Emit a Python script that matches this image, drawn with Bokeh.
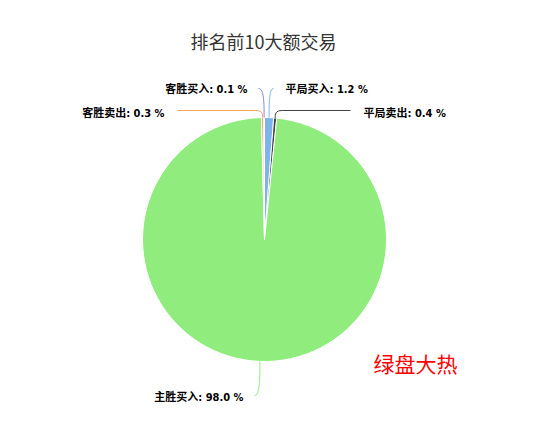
import math
from bokeh.plotting import figure
from bokeh.models import Range1d, Label
from bokeh.embed import file_html
from bokeh.resources import INLINE
from bokeh.core.properties import value

# ---- data ----
title_text = "排名前10大额交易"
names = ["平局买入", "平局卖出", "主胜买入", "客胜卖出", "客胜买入"]
values = [1.2, 0.4, 98.0, 0.3, 0.1]
note_text = "绿盘大热"

# ---- styles / layout ----
colors = ["#7cb5ec", "#434348", "#90ed7d", "#f7a35c", "#8085e9"]
# label layout (screen px): text anchor x, text y, side, connector end x, connector end y
label_layout = [
    (285, 89, "left", 273, 88),
    (363, 113, "left", 350, 110),
    (243, 397, "right", 254, 395),
    (164, 113, "right", 177, 110),
    (247, 89, "right", 258, 88),
]
CX, CY, R = 264, 239, 122
W, H = 517, 406
LBL_FONT = "'DejaVu Sans Condensed', 'Noto Sans CJK SC'"
CJK_FONT = "Noto Sans CJK SC"

p = figure(width=W, height=H, x_range=Range1d(0, W), y_range=Range1d(-H, 0),
           toolbar_location=None, output_backend="svg", min_border=0, title=None)
p.axis.visible = False
p.grid.visible = False
p.outline_line_color = None
p.background_fill_color = "white"
p.border_fill_color = "white"

total = sum(values)
cum = 0.0
starts, ends, mids = [], [], []
for v in values:
    f0 = cum / total
    cum += v
    f1 = cum / total
    starts.append(math.pi / 2 - 2 * math.pi * f0)
    ends.append(math.pi / 2 - 2 * math.pi * f1)
    mids.append(math.pi / 2 - math.pi * (f0 + f1))

n = len(values)
p.wedge(x=[CX] * n, y=[-CY] * n, radius=R, start_angle=starts, end_angle=ends,
        direction="clock", fill_color=colors, line_color="white", line_width=1)

# connectors
bx0, by0, bx1, by1, bc0x, bc0y, bc1x, bc1y = [], [], [], [], [], [], [], []
sx0, sy0, sx1, sy1 = [], [], [], []
for i in range(n):
    px = CX + R * math.cos(mids[i])
    py = -CY + R * math.sin(mids[i])
    tx, ty, side, ex, ey = label_layout[i]
    ey = -ey
    sign = 1 if ex > px else -1
    if abs(ex - px) < 9:
        kx = ex
    else:
        kx = px + sign * 7
    bx0.append(px); by0.append(py)
    bx1.append(kx); by1.append(ey)
    bc0x.append(px); bc0y.append(py + 0.5 * (ey - py))
    bc1x.append(px); bc1y.append(ey)
    sx0.append(kx); sy0.append(ey)
    sx1.append(ex); sy1.append(ey)

p.bezier(x0=bx0, y0=by0, x1=bx1, y1=by1, cx0=bc0x, cy0=bc0y, cx1=bc1x, cy1=bc1y,
         line_color=colors, line_width=1)
p.segment(x0=sx0, y0=sy0, x1=sx1, y1=sy1, line_color=colors, line_width=1)

# labels
for side in ("left", "right"):
    xs, ys, ts = [], [], []
    for i in range(n):
        tx, ty, s, ex, ey = label_layout[i]
        if s == side:
            xs.append(tx)
            ys.append(-ty)
            ts.append(f"{names[i]}: {values[i] / total * 100:.1f} %")
    p.text(x=xs, y=ys, text=ts, text_align=side, text_baseline="middle",
           text_font=value(LBL_FONT), text_font_size="11px", text_font_style="bold",
           text_color="#000000")

p.add_layout(Label(x=263, y=-40, text=title_text, text_align="center", text_baseline="middle",
                   text_font=CJK_FONT, text_font_size="18px", text_color="#333333"))
p.add_layout(Label(x=373, y=-362, text=note_text, text_align="left", text_baseline="middle",
                   text_font=CJK_FONT, text_font_size="21px", text_color="#ff0000"))

open("out.html", "w").write(file_html(p, INLINE))
